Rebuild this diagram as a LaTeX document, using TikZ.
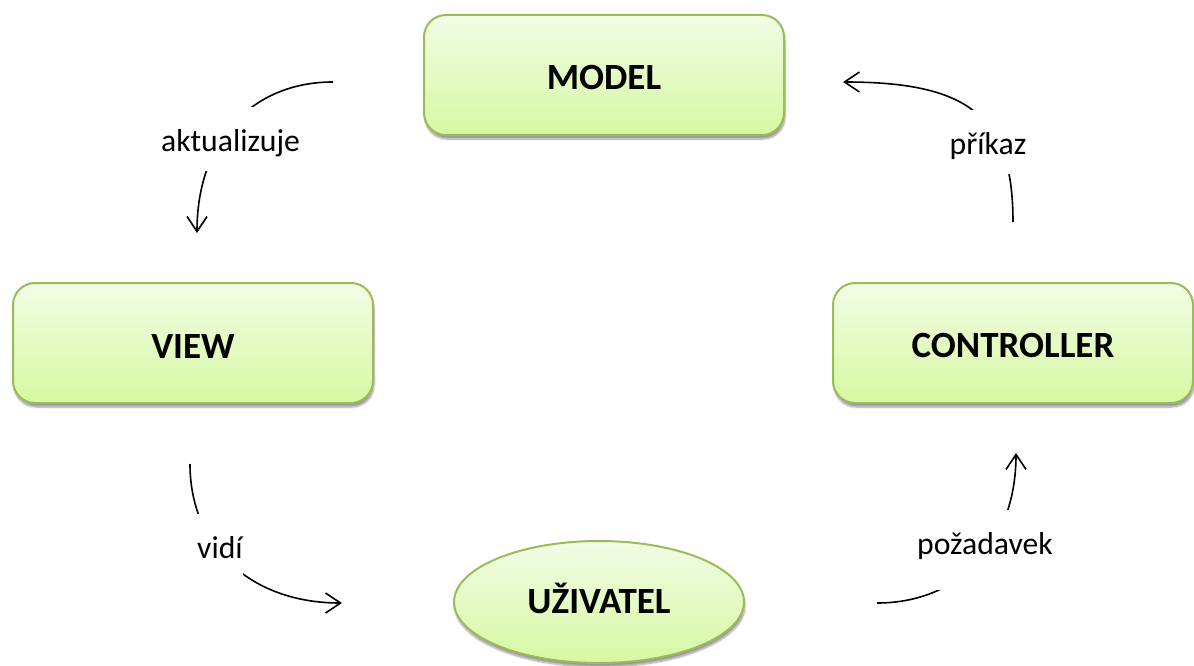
\documentclass[tikz,border=0pt]{standalone}
\usepackage{fontspec}
\setmainfont{Carlito}
\usetikzlibrary{arrows.meta,shapes.geometric,shadows.blur}
\definecolor{mvcOkraj}{RGB}{155,187,89}
\definecolor{mvcHore}{RGB}{242,252,230}
\definecolor{mvcDole}{RGB}{214,248,162}

\begin{document}
\begin{tikzpicture}[
  x=1pt, y=-1pt,
  box/.style={draw=mvcOkraj, line width=2pt, rounded corners=22pt, minimum width=360pt,
              minimum height=120pt, top color=mvcHore, bottom color=mvcDole,
              font=\fontsize{37}{44}\selectfont\bfseries, text height=30pt,
              blur shadow={shadow xshift=1pt, shadow yshift=-4pt, shadow blur steps=8, shadow opacity=40}},
  usr/.style={ellipse, draw=mvcOkraj, line width=2pt, minimum width=290pt,
              minimum height=122pt, top color=mvcHore, bottom color=mvcDole,
              font=\fontsize{37}{44}\selectfont\bfseries, text height=23pt,
              blur shadow={shadow xshift=1pt, shadow yshift=-4pt, shadow blur steps=8, shadow opacity=40}},
  lbl/.style={font=\fontsize{31.7}{38}\selectfont, fill=white, inner sep=0pt,
              anchor=base, text height=44pt, text depth=20pt},
  fl/.style={-{Straight Barb[length=15pt, width=20pt]}, line width=1.6pt, black}
]
\useasboundingbox (0,0) rectangle (1194,666);

% konce oblouku
\coordinate (aktA)  at (333,82);
\coordinate (aktB)  at (197,233);
\coordinate (prikA) at (1013,222);
\coordinate (prikB) at (843,82);
\coordinate (vidA)  at (190,464);
\coordinate (vidB)  at (342,603);
\coordinate (pozA)  at (877,603);
\coordinate (pozB)  at (1016,453);

\draw[fl] (aktA)  .. controls (251,82) and (197,142) .. (aktB);
\draw[fl] (prikA) .. controls (1013,117) and (970,82) .. (prikB);
\draw[fl] (vidA)  .. controls (190,547) and (251,603) .. (vidB);
\draw[fl] (pozA)  .. controls (960,603) and (1016,543) .. (pozB);

% popisky prerusuji oblouky
\node[lbl] (akt)  at (230.5,151) {aktualizuje};
\node[lbl] (prik) at (988,154)   {příkaz};
\node[lbl] (vid)  at (220,558)   {vidí};
\node[lbl, text depth=36pt] (poz) at (985,554) {požadavek};

\node[box] (model) at (604,75)  {MODEL};
\node[box] (view)  at (193,343) {VIEW};
\node[box] (ctrl)  at (1013,343) {CONTROLLER};
\node[usr] (uziv)  at (599,602) {UŽIVATEL};

\end{tikzpicture}
\end{document}
